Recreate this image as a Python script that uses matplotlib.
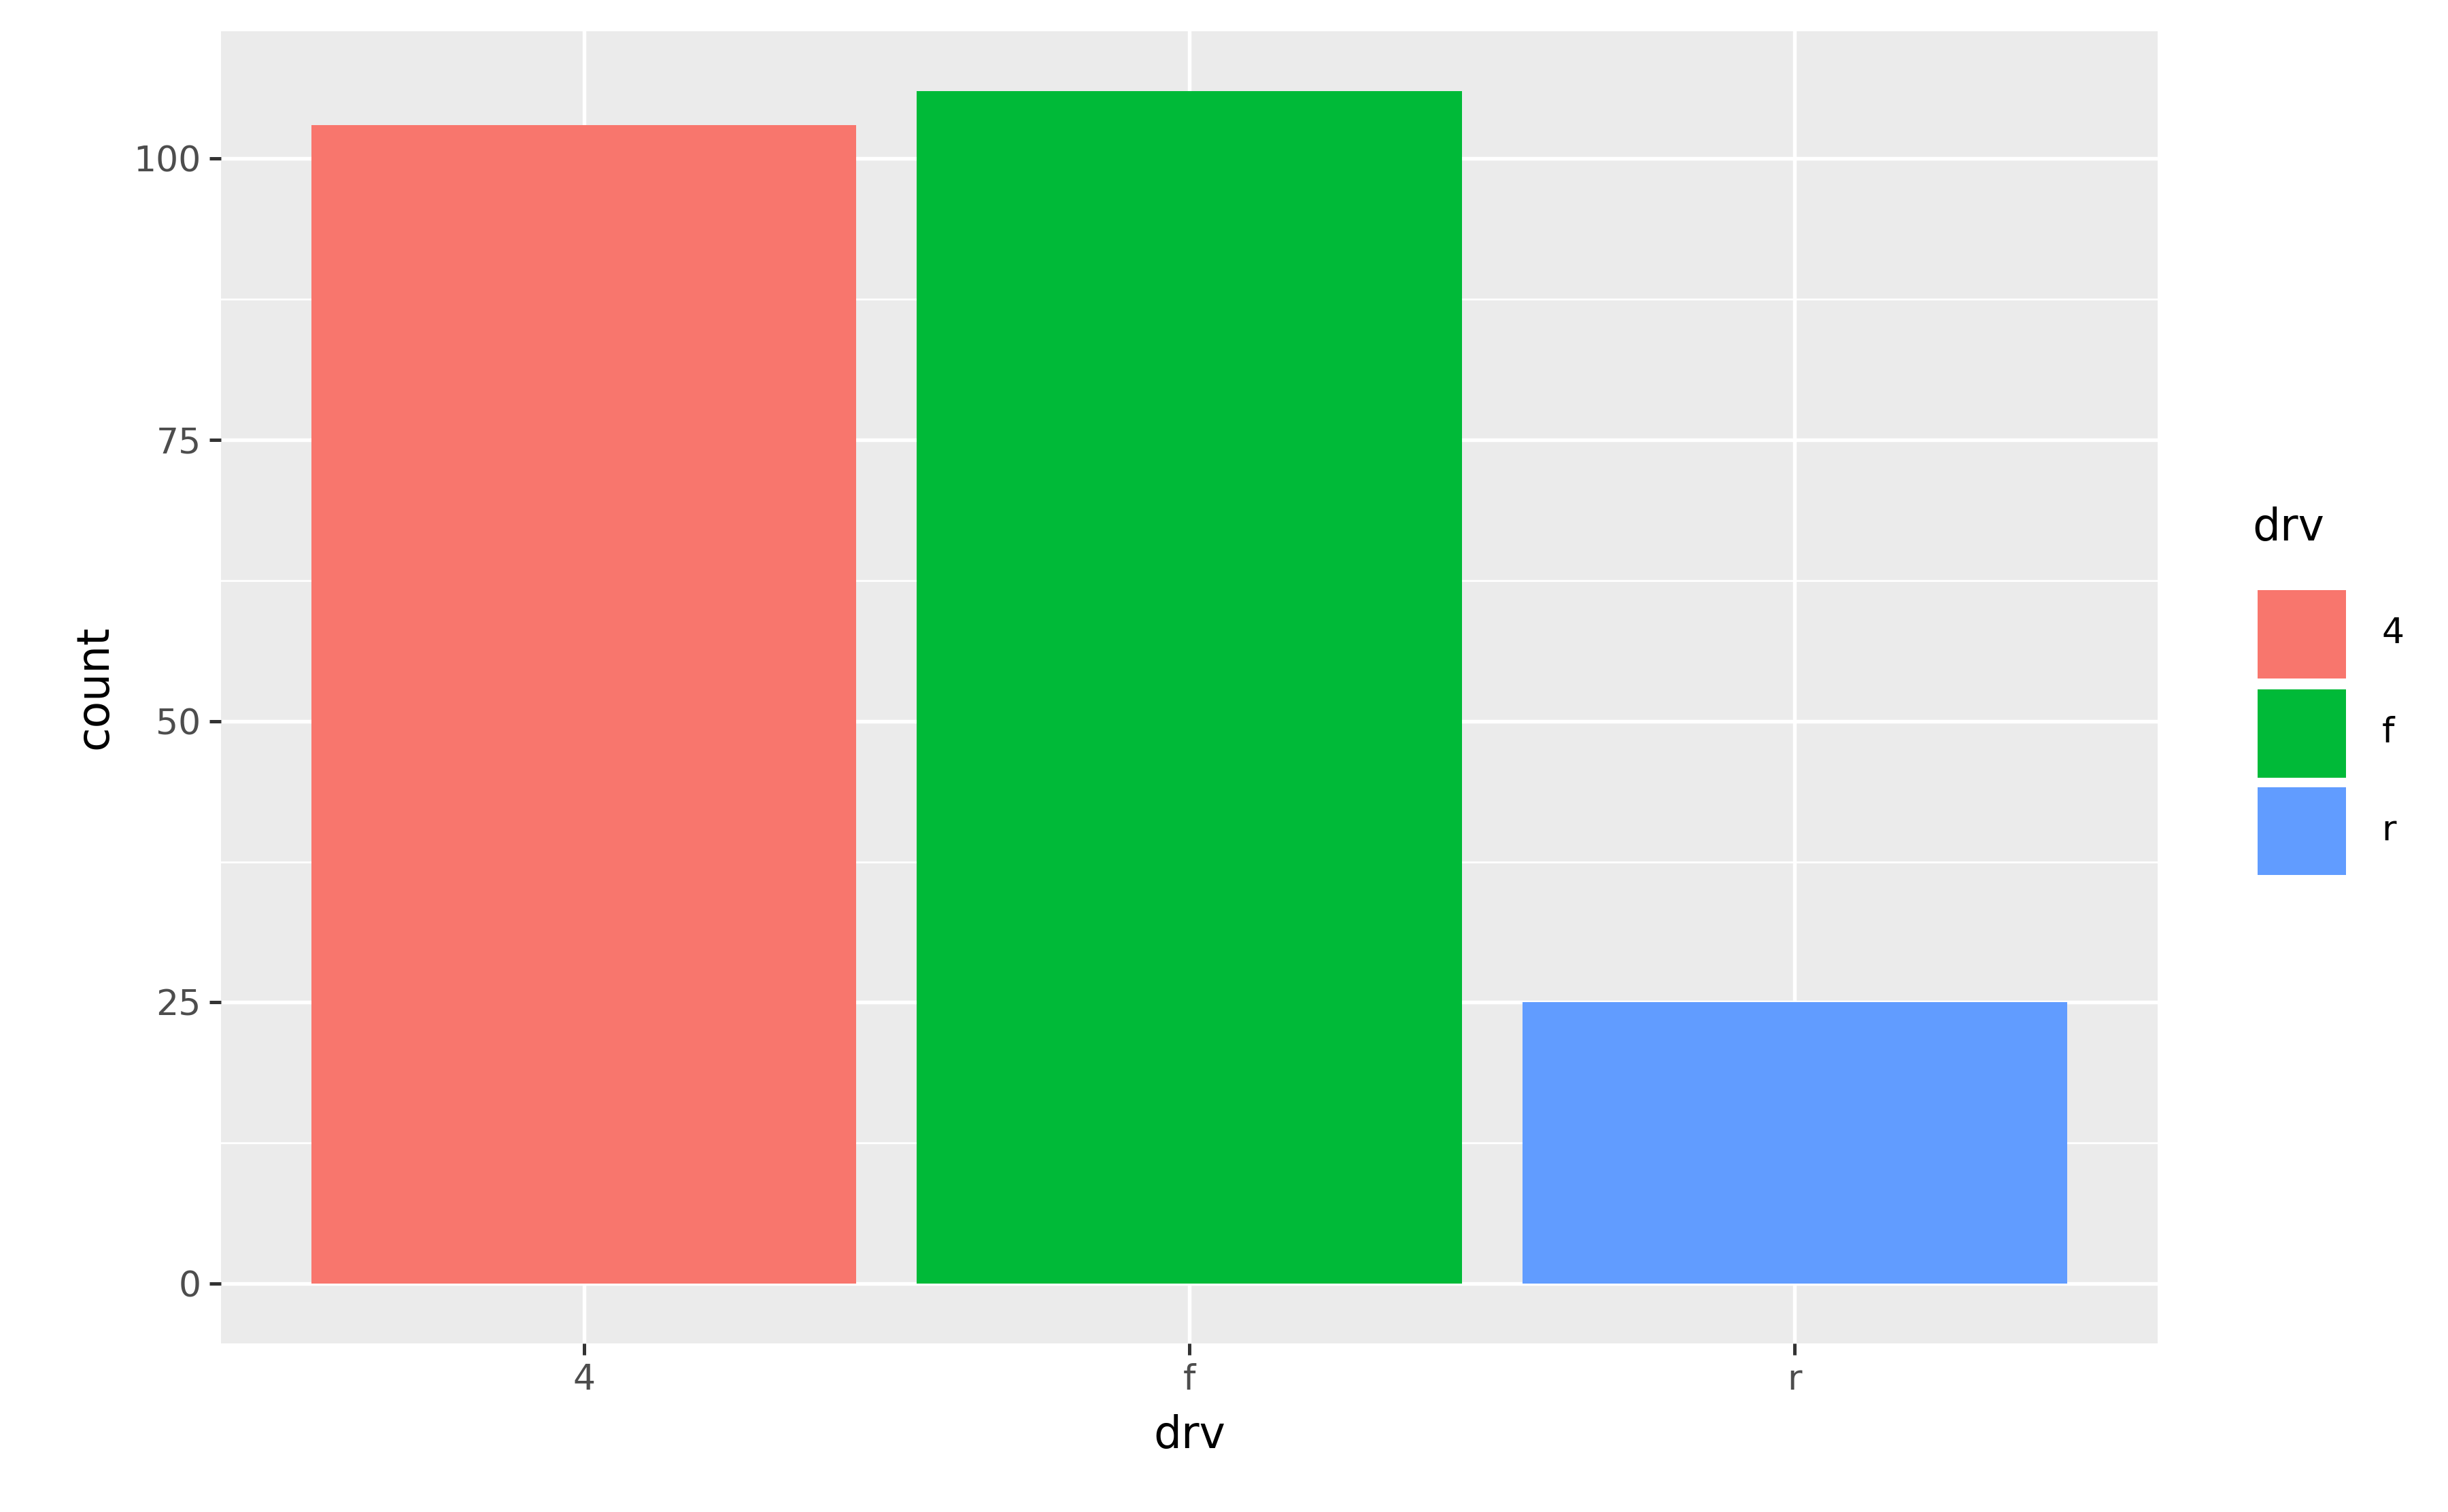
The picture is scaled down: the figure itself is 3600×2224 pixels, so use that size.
import matplotlib
matplotlib.use("Agg")
import matplotlib.pyplot as plt
from matplotlib.patches import Rectangle

categories = ["4", "f", "r"]
counts = [103, 106, 25]
colors = ["#F8766D", "#00BA38", "#619CFF"]

H = 959.0; W = 1552.0
fig = plt.figure(figsize=(12, 12*2224/3600), dpi=300)
ax = fig.add_axes([140/W, 1-852/H, (1368-140)/W, (852-20)/H])
ax.set_facecolor("#EBEBEB")
x = list(range(len(categories)))
ax.bar(x, counts, width=0.9, color=colors, zorder=3)
ax.set_xlim(-0.6, 2.6)
ax.set_ylim(-5.3, 111.3)
ax.set_xticks(x)
ax.set_xticklabels(categories)
ax.set_yticks([0, 25, 50, 75, 100])
ax.set_yticks([12.5, 37.5, 62.5, 87.5], minor=True)
ax.grid(True, which="major", color="white", lw=1.3, zorder=1)
ax.grid(True, which="minor", axis="y", color="white", lw=0.65, zorder=1)
for s in ax.spines.values():
    s.set_visible(False)
ax.tick_params(which="major", length=4, width=1.2, color="#333333", labelsize=12.5, labelcolor="#4D4D4D", pad=3)
ax.tick_params(which="minor", length=0)
ax.set_xlabel("drv", fontsize=15.5, labelpad=6)
ax.set_ylabel("count", fontsize=15.5, labelpad=6)

fig.text(1428/W, 1-335/H, "drv", fontsize=15.5, va="center", ha="left")
tops = [373, 436, 498]
for c, lab, t in zip(colors, categories, tops):
    fig.add_artist(Rectangle((1430/W, 1-(t+58)/H), 58/W, 58/H, transform=fig.transFigure,
                             facecolor=c, edgecolor="white", lw=1.2))
    fig.text(1510/W, 1-(t+29)/H, lab, fontsize=12.5, va="center", ha="left")

fig.savefig("out.png", dpi=300, facecolor="white")
